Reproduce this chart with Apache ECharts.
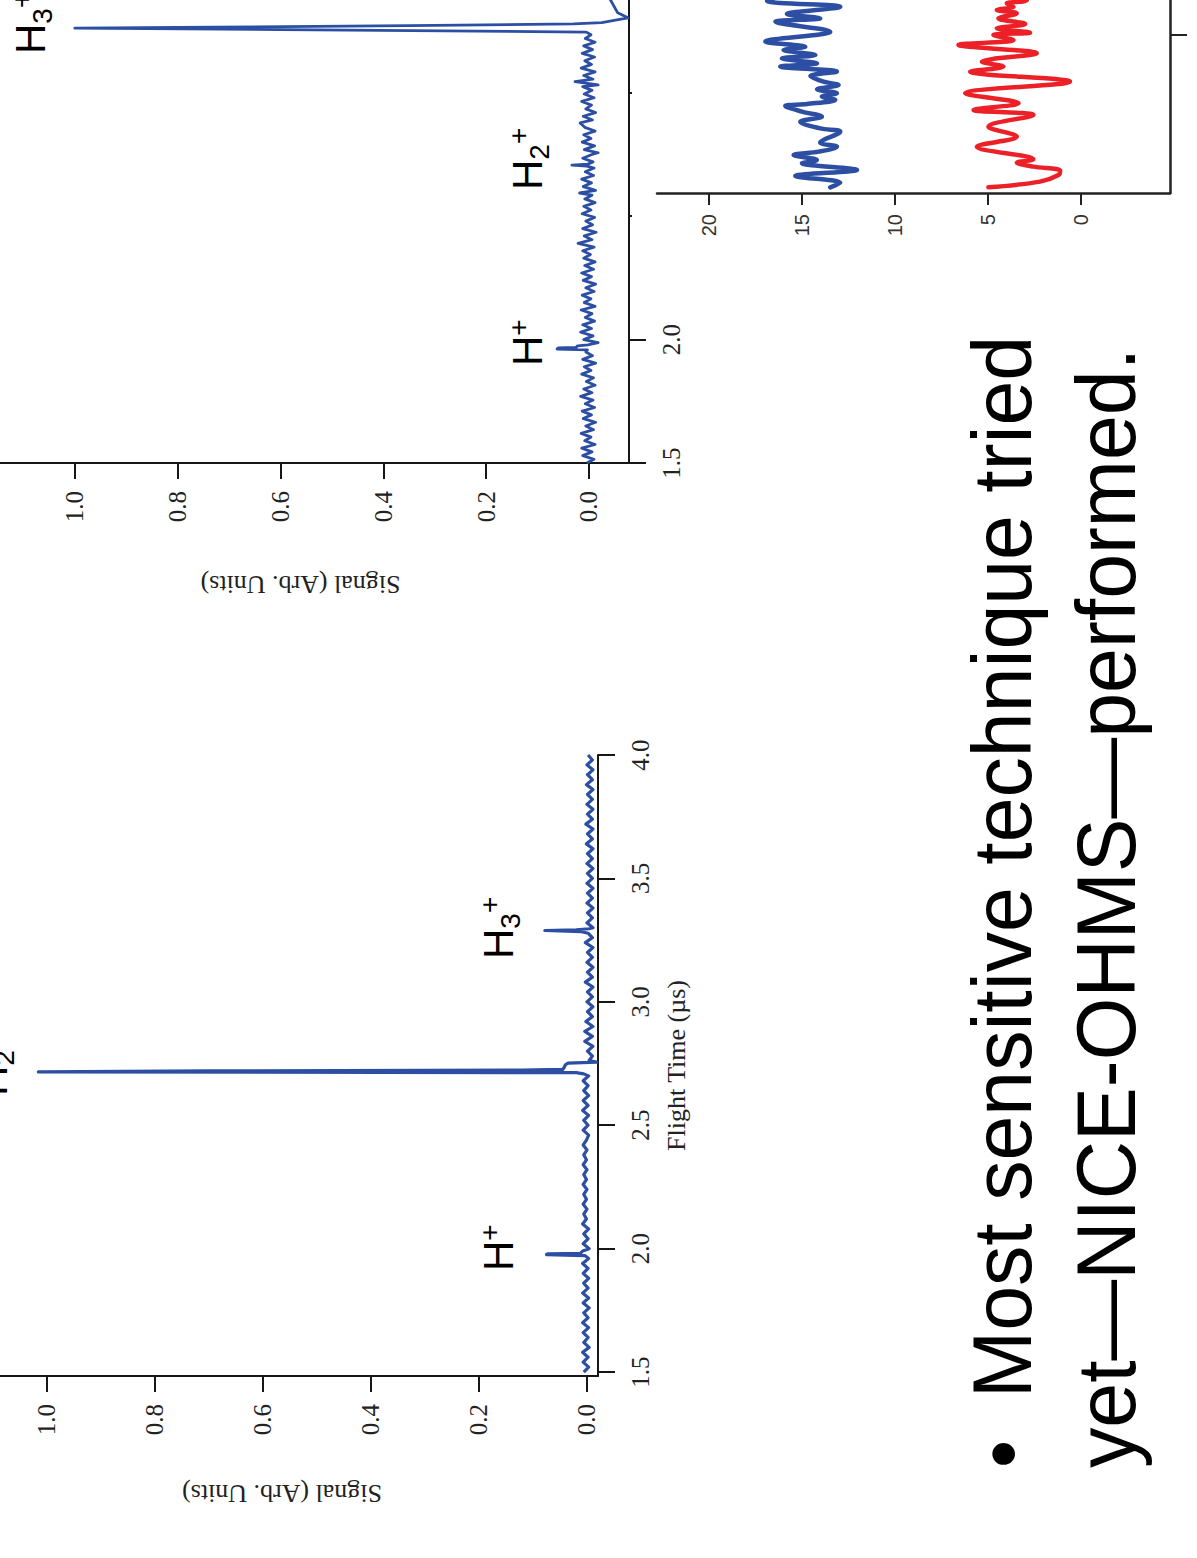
<!DOCTYPE html>
<html><head><meta charset="utf-8">
<script src="https://cdn.jsdelivr.net/npm/echarts@6.0.0/dist/echarts.min.js"></script>
<style>html,body{margin:0;padding:0;background:#fff;}#c{width:1197px;height:1558px;}</style>
</head><body><div id="c"></div>
<script>
// ---------- DATA ----------
// Lower-left TOF spectrum (flight time in µs, signal in arb. units)
const tofATime = [1.50,1.52,1.54,1.56,1.58,1.60,1.62,1.64,1.66,1.68,1.70,1.72,1.74,1.76,1.78,1.80,1.82,1.84,1.86,1.88,1.90,1.92,1.94,1.96,
  1.972,1.976,1.979,1.981,1.986,1.990,
  2.00,2.02,2.04,2.06,2.08,2.10,2.12,2.14,2.16,2.18,2.20,2.22,2.24,2.26,2.28,2.30,2.32,2.34,2.36,2.38,2.40,2.42,2.44,2.46,2.48,2.50,2.52,2.54,2.56,2.58,2.60,2.62,2.64,2.66,2.68,2.70,
  2.708,2.713,2.716,2.720,2.723,2.726,2.735,2.745,2.752,2.756,2.762,
  2.78,2.80,2.82,2.84,2.86,2.88,2.90,2.92,2.94,2.96,2.98,3.00,3.02,3.04,3.06,3.08,3.10,3.12,3.14,3.16,3.18,3.20,3.22,3.24,3.26,
  3.278,3.284,3.289,3.292,3.296,
  3.30,3.32,3.34,3.36,3.38,3.40,3.42,3.44,3.46,3.48,3.50,3.52,3.54,3.56,3.58,3.60,3.62,3.64,3.66,3.68,3.70,3.72,3.74,3.76,3.78,3.80,3.82,3.84,3.86,3.88,3.90,3.92,3.94,3.96,3.98,4.00];
const tofASignal = [0.006,-0.003,0.007,-0.002,0.008,-0.004,0.006,-0.002,0.007,-0.003,0.008,-0.002,0.006,-0.004,0.007,-0.003,0.008,-0.002,0.006,-0.003,0.007,-0.002,0.008,-0.003,
  0.004,0.075,0.072,0.012,0.010,0.008,
  -0.004,0.007,-0.002,0.006,-0.003,0.008,0.001,0.006,0.000,0.007,0.001,0.006,0.000,0.007,0.001,0.006,0.000,0.007,0.001,0.006,0.000,0.007,0.001,-0.003,0.007,-0.002,0.006,-0.003,0.008,-0.002,0.007,-0.003,0.006,-0.002,0.007,-0.003,
  0.006,0.020,1.016,0.700,0.120,0.045,0.042,0.040,0.035,-0.018,-0.004,
  -0.010,-0.001,-0.011,0.004,-0.010,0.004,-0.011,0.002,-0.010,-0.001,-0.011,0.000,-0.010,-0.001,-0.011,0.003,-0.010,-0.001,-0.011,0.000,-0.010,-0.001,-0.011,0.003,-0.010,
  -0.002,0.010,0.078,0.020,-0.004,
  -0.011,0.000,-0.010,-0.001,-0.011,0.000,-0.010,-0.001,-0.011,0.000,-0.010,-0.001,-0.011,0.000,-0.010,-0.001,-0.011,0.001,-0.010,-0.001,-0.011,0.002,-0.010,-0.001,-0.011,0.000,-0.010,-0.001,-0.011,0.001,-0.010,-0.001,-0.011,0.000,-0.010,-0.002];

// Upper TOF spectrum
const tofBTime = [1.500,1.515,1.530,1.545,1.560,1.575,1.590,1.605,1.620,1.635,1.650,1.665,1.680,1.695,1.710,1.725,1.740,1.755,1.770,1.785,1.800,1.815,1.830,1.845,1.860,1.875,1.890,1.905,1.920,1.935,1.950,
  1.958,1.962,1.966,1.968,1.975,1.979,1.988,
  2.000,2.015,2.030,2.045,2.060,2.075,2.090,2.105,2.120,2.135,2.150,2.165,2.180,2.195,2.210,2.225,2.240,2.255,2.270,2.285,2.300,2.315,2.330,2.345,2.360,2.375,2.390,2.405,2.420,2.435,2.450,2.465,2.480,2.495,2.510,2.525,2.540,2.555,2.570,2.585,2.594,2.605,2.620,2.635,2.650,2.665,2.680,2.695,
  2.703,2.707,2.711,
  2.720,2.735,2.750,2.757,2.770,2.785,2.800,2.815,2.830,2.845,2.860,2.878,2.890,2.905,2.920,2.935,2.950,2.965,2.980,2.995,3.010,3.025,3.032,3.045,3.055,3.070,3.085,3.100,3.115,3.130,3.145,3.160,3.175,3.190,3.205,3.220,3.235,
  3.246,3.256,3.262,3.266,3.272,3.279,3.284,3.304,3.324,3.380,3.450];
const tofBSignal = [0.004,-0.010,0.012,-0.006,0.014,-0.012,0.008,-0.004,0.015,-0.009,0.006,-0.013,0.011,-0.005,0.013,-0.011,0.007,-0.008,0.016,-0.006,0.010,-0.012,0.005,-0.009,0.014,-0.004,0.009,-0.013,0.012,-0.007,0.006,
  0.003,0.062,0.060,0.025,0.022,0.002,-0.018,
  0.010,-0.008,0.016,-0.005,0.012,-0.011,0.007,-0.006,0.015,-0.012,0.009,-0.004,0.013,-0.010,0.006,-0.013,0.011,-0.005,0.014,-0.009,0.008,-0.012,0.010,-0.003,0.012,-0.010,0.021,-0.006,0.009,-0.014,0.012,-0.007,0.006,-0.011,0.013,-0.004,0.010,-0.012,0.008,-0.006,0.018,-0.013,0.011,-0.005,0.014,-0.009,0.007,-0.010,
  0.004,0.033,0.002,
  -0.008,0.012,-0.006,-0.018,0.009,-0.011,0.013,-0.004,0.010,-0.012,0.008,0.017,-0.007,0.011,-0.013,0.006,-0.005,0.014,-0.010,0.009,-0.006,0.012,-0.018,0.027,-0.008,0.010,-0.012,0.015,-0.005,0.008,-0.011,0.013,-0.007,0.010,-0.012,0.007,-0.004,
  0.005,0.600,1.000,0.730,0.350,0.030,-0.025,-0.076,-0.056,-0.041,-0.035];

// Inset spectra (vertical position in arb. units, signal in inset units)
const bluePos = [0.036,0.065,0.108,0.146,0.188,0.209,0.241,0.262,0.293,0.319,0.388,0.409,0.451,0.483,0.515,0.551,0.563,0.589,0.610,0.631,0.656,0.684,0.705,0.741,0.768,0.800,0.821,0.852,0.873,0.905,0.926,0.958,1.021,1.084,1.105,1.133,1.179,1.217,1.285];
const blueSignal = [13.48,12.94,15.36,12.04,15.00,14.20,15.45,14.10,13.12,14.02,12.94,14.02,15.09,13.93,15.00,15.90,14.73,13.21,13.93,13.12,14.19,13.03,13.84,14.55,13.12,16.17,14.19,16.08,14.28,15.99,14.82,16.97,13.48,16.43,14.02,15.81,12.94,16.88,14.73];
const redPos = [0.036,0.072,0.114,0.141,0.167,0.192,0.213,0.293,0.357,0.420,0.494,0.525,0.568,0.631,0.705,0.768,0.800,0.831,0.884,0.937,0.968,1.000,1.015,1.042,1.070,1.105,1.137,1.158,1.179,1.200,1.222,1.285];
const redSignal = [4.97,2.19,1.20,1.11,2.55,3.44,2.55,5.59,3.44,4.97,2.55,5.77,3.35,6.22,0.58,5.95,4.16,5.32,2.37,6.58,3.62,4.70,2.73,4.52,2.99,4.43,3.44,4.52,3.62,3.98,2.90,3.62];

// Tick values / labels
const signalTicks = [0, 0.2, 0.4, 0.6, 0.8, 1.0];
const timeTicksA = [1.5, 2.0, 2.5, 3.0, 3.5, 4.0];
const timeTicksB = [1.5, 2.0, 2.5, 3.0, 3.5, 4.0];
const timeLabelsB = [1.5, 2.0];
const insetTicks = [0, 5, 10, 15, 20];
const insetPosTicks = [1];

const bulletLine1 = 'Most sensitive technique tried';
const bulletLine2 = 'yet\u2014NICE-OHMS\u2014performed.';

// ---------- CHART ----------
const BLUE = '#2c4fa3', RED = '#ec2127', AX = '#161616';
const SERIF = "'Liberation Serif','Times New Roman',serif";
const SANS = "'Liberation Sans',Arial,sans-serif";

function pairs(xs, ys) { return xs.map((t, i) => [ys[i], t]); }

function signalAxis(grid, min, max, gap) {
  return {
    type: 'value', gridIndex: grid, position: 'bottom', inverse: true, min: min, max: max,
    name: 'Signal (Arb. Units)', nameLocation: 'middle', nameGap: gap, nameRotate: 180, nameMoveOverlap: false,
    nameTextStyle: { fontFamily: SERIF, fontSize: 26, color: '#222' },
    axisLine: { show: true, onZero: false, lineStyle: { color: AX, width: 2 } },
    axisTick: { show: true, inside: false, length: 16, customValues: signalTicks, lineStyle: { color: AX, width: 2 } },
    axisLabel: { show: true, rotate: 90, margin: 28, fontFamily: SERIF, fontSize: 25, color: '#222',
      customValues: signalTicks, formatter: v => Number(v).toFixed(1) },
    splitLine: { show: false }, minorTick: { show: false }
  };
}
function timeAxis(grid, min, max, ticks, labels, name) {
  return {
    type: 'value', gridIndex: grid, position: 'right', min: min, max: max,
    name: name, nameLocation: 'middle', nameGap: 65, nameRotate: 90, nameMoveOverlap: false,
    nameTextStyle: { fontFamily: SERIF, fontSize: 26, color: '#222' },
    axisLine: { show: true, onZero: false, lineStyle: { color: AX, width: 2 } },
    axisTick: { show: true, inside: false, length: 17, customValues: ticks, lineStyle: { color: AX, width: 2 } },
    axisLabel: { show: true, rotate: 90, margin: 30, fontFamily: SERIF, fontSize: 25, color: '#222',
      customValues: labels, formatter: v => Number(v).toFixed(1) },
    splitLine: { show: false }, minorTick: { show: false }
  };
}

// Ion labels (H, subscript, superscript) as rotated text
function ionLabel(baseX, startY, sub) {
  const rot = Math.PI / 2, els = [];
  const common = { type: 'text', rotation: rot, z: 30, silent: true };
  els.push(Object.assign({}, common, { x: baseX - 14.6, y: startY,
    style: { text: 'H', fontSize: 42, fontFamily: SANS, fill: '#000', align: 'left', textAlign: 'left', verticalAlign: 'middle', textVerticalAlign: 'middle' } }));
  let y = startY - 30.3;
  if (sub) {
    els.push(Object.assign({}, common, { x: baseX + 7 - 9.7, y: y,
      style: { text: sub, fontSize: 28, fontFamily: SANS, fill: '#000', align: 'left', textAlign: 'left', verticalAlign: 'middle', textVerticalAlign: 'middle' } }));
    y -= 15.6;
  }
  els.push(Object.assign({}, common, { x: baseX - 13.5 - 9.7, y: y,
    style: { text: '+', fontSize: 28, fontFamily: SANS, fill: '#000', align: 'left', textAlign: 'left', verticalAlign: 'middle', textVerticalAlign: 'middle' } }));
  return els;
}
function bigText(text, x, y) {
  return { type: 'text', x: x, y: y, rotation: Math.PI / 2, scaleX: 0.96, scaleY: 1, z: 30, silent: true,
    style: { text: text, fontSize: 84, fontFamily: SANS, fill: '#000', align: 'left', textAlign: 'left', verticalAlign: 'middle', textVerticalAlign: 'middle' } };
}

const graphics = [
  { type: 'rect', shape: { x: 632, y: 0, width: 565, height: 300 }, style: { fill: '#fff' }, z: 5, silent: true },
  ...ionLabel(513, 1271, null),
  ...ionLabel(513, 959, '3'),
  ...ionLabel(7, 1096, '2'),
  ...ionLabel(542, 366, null),
  ...ionLabel(542, 190, '2'),
  ...ionLabel(45, 54, '3'),
  bigText('\u2022', 1001, 1468),
  bigText(bulletLine1, 1001, 1398),
  bigText(bulletLine2, 1105, 1468)
];

const chart = echarts.init(document.getElementById('c'), null, { renderer: 'svg', width: 1197, height: 1558 });
chart.setOption({
  animation: false,
  backgroundColor: '#fff',
  grid: [
    { left: -34, top: 755, width: 632, height: 621, containLabel: false, outerBoundsMode: 'none', show: false },
    { left: -28, top: -154, width: 657, height: 617, containLabel: false, outerBoundsMode: 'none', show: false },
    { left: 657, top: -202, width: 513, height: 395, containLabel: false, outerBoundsMode: 'none', show: false }
  ],
  xAxis: [
    signalAxis(0, -0.0204, 1.15, 104),
    signalAxis(1, -0.078, 1.2, 108),
    {
      type: 'value', gridIndex: 2, position: 'bottom', inverse: true, min: -4.8, max: 22.8, z: 20,
      axisLine: { show: true, onZero: false, lineStyle: { color: '#222', width: 2.5 } },
      axisTick: { show: true, inside: false, length: 12, customValues: insetTicks, lineStyle: { color: '#222', width: 2 } },
      axisLabel: { show: true, rotate: 90, margin: 21, fontFamily: SANS, fontSize: 20, color: '#333', customValues: insetTicks },
      splitLine: { show: false }
    }
  ],
  yAxis: [
    timeAxis(0, 1.484, 4.0, timeTicksA, timeTicksA, 'Flight Time (\u00b5s)'),
    timeAxis(1, 1.5, 4.0, timeTicksB, timeLabelsB, ''),
    {
      type: 'value', gridIndex: 2, position: 'right', min: 0, max: 2.5, z: 20,
      axisLine: { show: true, onZero: false, lineStyle: { color: '#222', width: 2.5 } },
      axisTick: { show: true, inside: false, length: 17, customValues: insetPosTicks, lineStyle: { color: '#222', width: 2 } },
      axisLabel: { show: false },
      splitLine: { show: false }
    }
  ],
  series: [
    { type: 'line', xAxisIndex: 0, yAxisIndex: 0, data: pairs(tofATime, tofASignal), symbol: 'none', showSymbol: false,
      lineStyle: { color: BLUE, width: 3.2, join: 'round' }, clip: true, z: 2 },
    { type: 'line', xAxisIndex: 1, yAxisIndex: 1, data: pairs(tofBTime, tofBSignal), symbol: 'none', showSymbol: false,
      lineStyle: { color: BLUE, width: 2.8, join: 'round' }, clip: true, z: 2 },
    { type: 'line', xAxisIndex: 2, yAxisIndex: 2, data: pairs(bluePos, blueSignal), symbol: 'none', showSymbol: false, smooth: 0.35,
      lineStyle: { color: BLUE, width: 4.5, cap: 'round', join: 'round' }, clip: true, z: 20 },
    { type: 'line', xAxisIndex: 2, yAxisIndex: 2, data: pairs(redPos, redSignal), symbol: 'none', showSymbol: false, smooth: 0.35,
      lineStyle: { color: RED, width: 4.5, cap: 'round', join: 'round' }, clip: true, z: 20 }
  ],
  graphic: { elements: graphics }
});
</script></body></html>
